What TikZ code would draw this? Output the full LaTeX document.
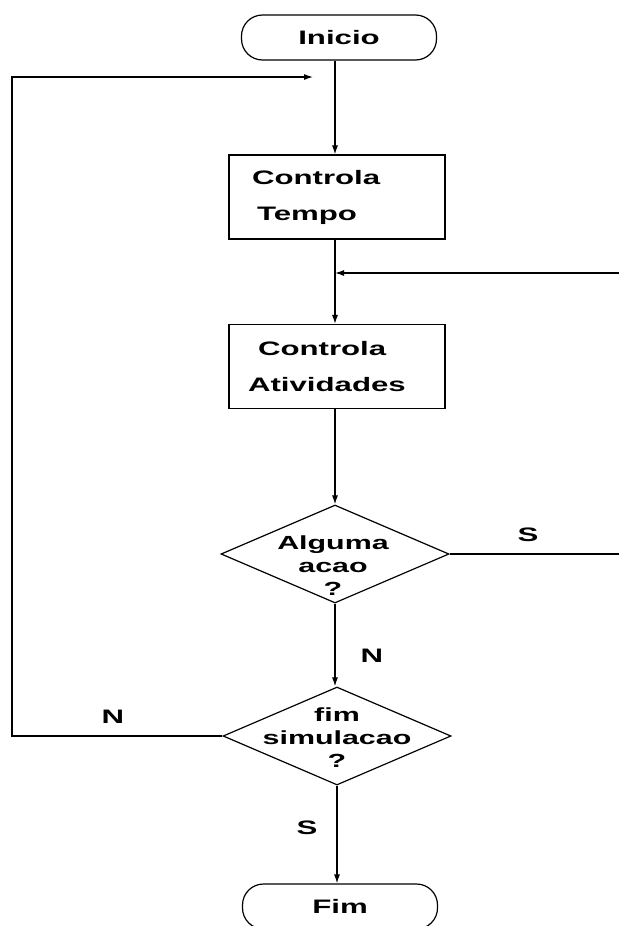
\documentclass[tikz,border=0pt]{standalone}
\usepackage{fontspec}
\setmainfont{Liberation Sans}[FakeStretch=1.6]
\usetikzlibrary{arrows.meta,shapes.geometric}

\begin{document}
\begin{tikzpicture}[x=1pt,y=-1pt,
  txt/.style={font=\fontsize{19.5}{36}\selectfont\bfseries},
  dtxt/.style={font=\fontsize{19}{23}\selectfont\bfseries, align=center},
  line/.style={line width=1.2pt},
  arr/.style={line, -{Latex[length=9pt,width=6pt]}},
  term/.style={draw, line width=1.2pt, rounded corners=21pt,
    minimum width=195pt, minimum height=45pt, txt},
  procbox/.style={draw, line width=1.2pt, minimum width=216pt,
    minimum height=84pt, inner xsep=19pt, text width=178pt, align=left, txt},
  decision/.style={draw, diamond, line width=1.2pt, inner sep=0pt,
    minimum width=228pt, minimum height=98pt},
]
\useasboundingbox (0,0) rectangle (619,926);

% column of the main flow
\coordinate (col) at (335,0);

% nodes
\node[term] (inicio) at (339,37.5) {Inicio};
\node[procbox] (tempo) at (337,197)
  {\hspace*{4pt}Controla\\\hspace*{9pt}Tempo};
\node[procbox] (ativ) at (337,366.5)
  {\hspace*{10pt}Controla\\Atividades};
\node[decision] (acao) at (335,554) {};
\node[dtxt] (acaotxt) at (333,566) {Alguma\\acao\\?};
\node[decision] (fimsim) at (337,736) {};
\node[dtxt] (fimsimtxt) at (337,738) {fim\\simulacao\\?};
\node[term] (fim) at (340,906.5) {Fim};

% helper points of the loops
\coordinate (junc) at (335,273);
\coordinate (rjunc) at (619,273);
\coordinate (rsim) at (619,554);
\coordinate (lcorner) at (12,77);
\coordinate (lend) at (313,77);

% connectors
\draw[arr] (inicio.south -| col) -- (tempo.north -| col);
\draw[line] (tempo.south -| col) -- (junc);
\draw[arr] (junc) -- (ativ.north -| col);
\draw[arr] (rjunc) -- (junc);
\draw[arr] (ativ.south -| col) -- (acao.north);
\draw[line] (acao.east) -- (rsim);
\draw[arr] (acao.south) -- (fimsim.north -| acao.south);
\draw[arr] (fimsim.south) -- (fim.north -| fimsim.south);
\draw[arr] (fimsim.west) -| (lcorner) -- (lend);

% branch labels
\node[txt] (ls1) at (528,535) {S};
\node[txt] (ln1) at (372,656) {N};
\node[txt] (ln2) at (113,717) {N};
\node[txt] (ls2) at (307,828) {S};
\end{tikzpicture}
\end{document}
